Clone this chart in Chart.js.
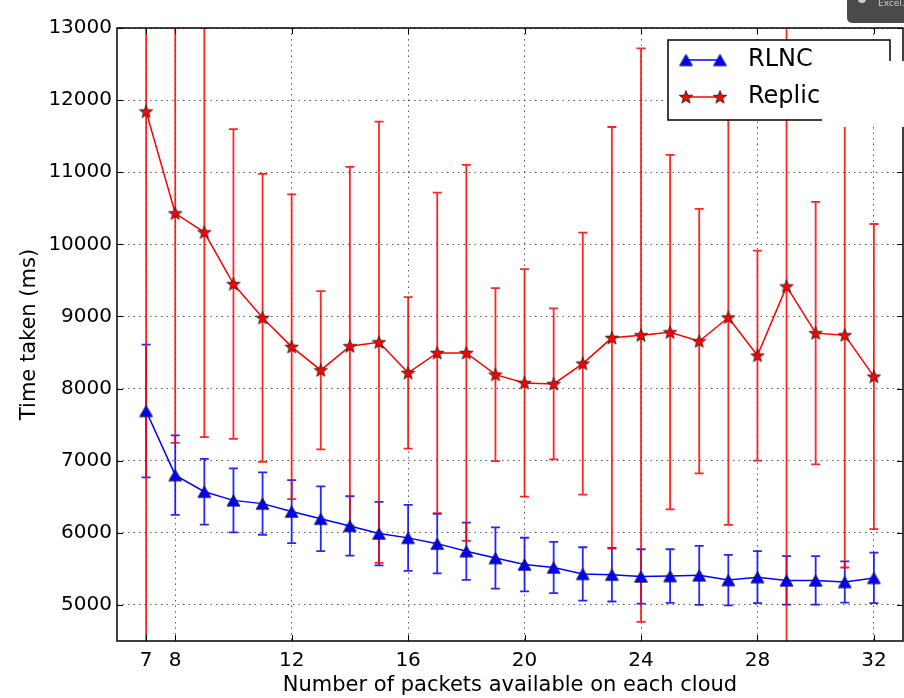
<!DOCTYPE html>
<html>
<head>
<meta charset="utf-8">
<title>Time taken vs packets per cloud</title>
<script src="https://cdn.jsdelivr.net/npm/chart.js@4/dist/chart.umd.min.js"></script>
<style>
    html, body { margin: 0; padding: 0; background: #ffffff; }
    #timeChart { display: block; }
</style>
</head>
<body>
<canvas id="timeChart" width="904" height="698"></canvas>
<script>
// Data
const packets = [7, 8, 9, 10, 11, 12, 13, 14, 15, 16, 17, 18, 19, 20, 21, 22, 23, 24, 25, 26, 27, 28, 29, 30, 31, 32]; // x values
const rlncMean = [7690, 6800, 6570, 6450, 6405, 6295, 6195, 6095, 5990, 5930, 5850, 5745, 5650, 5560, 5520, 5430, 5420, 5395, 5400, 5410, 5345, 5385, 5340, 5340, 5318, 5375];
const rlncErr = [920, 550, 455, 443, 432, 437, 450, 412, 440, 457, 412, 397, 425, 372, 355, 370, 372, 377, 372, 410, 350, 360, 337, 337, 287, 350];
const replicMean = [11843, 10431, 10167, 9450, 8981, 8579, 8255, 8588, 8643, 8218, 8495, 8495, 8194, 8079, 8065, 8347, 8704, 8741, 8782, 8657, 8986, 8458, 9417, 8769, 8741, 8166];
const replicErr = [7600, 3185, 2840, 2148, 1997, 2113, 1097, 2487, 3060, 1050, 2222, 2608, 1199, 1578, 1046, 1817, 2923, 3977, 2458, 1834, 2875, 1456, 5200, 1820, 3222, 2116];
const xTicks = [7, 8, 12, 16, 20, 24, 28, 32]; // tick labels on the x axis
const yTicks = [5000, 6000, 7000, 8000, 9000, 10000, 11000, 12000, 13000]; // tick labels on the y axis
const seriesNames = ['RLNC', 'Replic'];

const FONT = "'DejaVu Sans', sans-serif";

// marker images (matplotlib style filled markers with a dark edge)
function makeStar(r, fill) {
    const s = Math.ceil(r * 2 + 4);
    const c = document.createElement('canvas');
    c.width = s; c.height = s;
    const g = c.getContext('2d');
    g.translate(s / 2, s / 2 + 0.5);
    g.beginPath();
    for (let i = 0; i < 10; i++) {
        const rad = i % 2 ? r * 0.42 : r;
        const a = -Math.PI / 2 + i * Math.PI / 5;
        g.lineTo(rad * Math.cos(a), rad * Math.sin(a));
    }
    g.closePath();
    g.fillStyle = fill; g.fill();
    g.lineWidth = 0.8; g.strokeStyle = '#222'; g.stroke();
    return c;
}

function makeTriangle(w, h, fill) {
    const s = Math.ceil(Math.max(w, h) + 4);
    const c = document.createElement('canvas');
    c.width = s; c.height = s;
    const g = c.getContext('2d');
    g.translate(s / 2, s / 2);
    g.beginPath();
    g.moveTo(0, -h / 2);
    g.lineTo(-w / 2, h / 2);
    g.lineTo(w / 2, h / 2);
    g.closePath();
    g.fillStyle = fill; g.fill();
    g.lineWidth = 0.8; g.strokeStyle = '#222'; g.stroke();
    return c;
}

const triangleImg = makeTriangle(13, 11.5, '#0000ff');
const starImg = makeStar(7, '#ff0000');

// error bars drawn from the data arrays through the chart scales
const errorBarPlugin = {
    id: 'errorBars',
    beforeDatasetsDraw(chart) {
        const { ctx, chartArea, scales } = chart;
        const sets = [
            { mean: rlncMean, err: rlncErr, color: 'rgba(0, 0, 255, 0.85)' },
            { mean: replicMean, err: replicErr, color: 'rgba(255, 0, 0, 0.85)' }
        ];
        ctx.save();
        ctx.beginPath();
        ctx.rect(chartArea.left, chartArea.top, chartArea.right - chartArea.left, chartArea.bottom - chartArea.top);
        ctx.clip();
        ctx.lineWidth = 1.8;
        sets.forEach(set => {
            ctx.strokeStyle = set.color;
            packets.forEach((p, i) => {
                const x = scales.x.getPixelForValue(p);
                const yHi = scales.y.getPixelForValue(set.mean[i] + set.err[i]);
                const yLo = scales.y.getPixelForValue(set.mean[i] - set.err[i]);
                ctx.beginPath();
                ctx.moveTo(x, yHi); ctx.lineTo(x, yLo); // the bar
                ctx.moveTo(x - 4.5, yHi); ctx.lineTo(x + 4.5, yHi); // top cap
                ctx.moveTo(x - 4.5, yLo); ctx.lineTo(x + 4.5, yLo); // bottom cap
                ctx.stroke();
            });
        });
        ctx.restore();
    }
};

// frame, inward ticks, legend box and the leftover screen overlay in the corner
const decorPlugin = {
    id: 'decor',
    afterDraw(chart) {
        const { ctx, chartArea: a, scales } = chart;
        ctx.save();
        ctx.strokeStyle = '#000';
        ctx.lineWidth = 1.5;
        ctx.strokeRect(a.left, a.top, a.right - a.left, a.bottom - a.top);

        ctx.lineWidth = 1;
        ctx.beginPath();
        yTicks.forEach(v => {
            const y = Math.round(scales.y.getPixelForValue(v)) + 0.5;
            ctx.moveTo(a.left, y); ctx.lineTo(a.left + 6, y);
            ctx.moveTo(a.right, y); ctx.lineTo(a.right - 6, y);
        });
        xTicks.forEach(v => {
            const x = Math.round(scales.x.getPixelForValue(v)) + 0.5;
            ctx.moveTo(x, a.bottom); ctx.lineTo(x, a.bottom - 6);
            ctx.moveTo(x, a.top); ctx.lineTo(x, a.top + 6);
        });
        ctx.stroke();

        // legend
        const lx = 668, ly = 40, lw = 222, lh = 80;
        ctx.fillStyle = '#fff';
        ctx.fillRect(lx, ly, lw, lh);
        ctx.lineWidth = 1.5;
        ctx.strokeStyle = '#000';
        ctx.strokeRect(lx, ly, lw, lh);
        const rows = [
            { y: 60, color: '#0000ff', img: triangleImg },
            { y: 97, color: '#ff0000', img: starImg }
        ];
        rows.forEach((r, i) => {
            ctx.strokeStyle = r.color;
            ctx.lineWidth = 1.5;
            ctx.beginPath();
            ctx.moveTo(686, r.y); ctx.lineTo(720, r.y);
            ctx.stroke();
            [686, 720].forEach(mx => ctx.drawImage(r.img, mx - r.img.width / 2, r.y - r.img.height / 2));
            ctx.fillStyle = '#000';
            ctx.font = '24px ' + FONT;
            ctx.textBaseline = 'middle';
            ctx.textAlign = 'left';
            ctx.fillText(seriesNames[i], 748, r.y);
        });

        // white patch covering part of the legend and the right frame
        ctx.fillStyle = '#fff';
        ctx.fillRect(822, 61, 82, 66);

        // dark popup in the top right corner
        ctx.fillStyle = '#4a4a4a';
        ctx.beginPath();
        ctx.roundRect(847, -10, 70, 33, 5);
        ctx.fill();
        ctx.fillStyle = '#d0d0d0';
        ctx.beginPath();
        ctx.arc(862, -1, 4, 0, Math.PI * 2);
        ctx.fill();
        ctx.font = '9px ' + FONT;
        ctx.textBaseline = 'alphabetic';
        ctx.fillText('Excel.', 878, 6);
        ctx.restore();
    }
};

document.addEventListener('DOMContentLoaded', () => {
    const ctx = document.getElementById('timeChart').getContext('2d');
    new Chart(ctx, {
        type: 'line',
        data: {
            datasets: [
                {
                    label: seriesNames[0],
                    data: packets.map((p, i) => ({ x: p, y: rlncMean[i] })),
                    borderColor: '#0000ff',
                    borderWidth: 1.5,
                    pointStyle: triangleImg,
                    pointRadius: 7,
                    tension: 0
                },
                {
                    label: seriesNames[1],
                    data: packets.map((p, i) => ({ x: p, y: replicMean[i] })),
                    borderColor: '#ff0000',
                    borderWidth: 1.5,
                    pointStyle: starImg,
                    pointRadius: 7,
                    tension: 0
                }
            ]
        },
        options: {
            responsive: false,
            devicePixelRatio: 1,
            animation: false,
            layout: { autoPadding: false, padding: { top: 28, right: 1, left: 0, bottom: 0 } },
            plugins: { legend: { display: false }, tooltip: { enabled: false } },
            scales: {
                x: {
                    type: 'linear',
                    min: 6,
                    max: 33,
                    afterBuildTicks: scale => { scale.ticks = xTicks.map(v => ({ value: v })); },
                    afterFit: scale => { scale.height = 57; },
                    grid: { color: 'rgba(0,0,0,0.65)', lineWidth: 1, drawTicks: false },
                    border: { display: false, dash: [1.5, 4] },
                    ticks: { color: '#000', font: { family: FONT, size: 20 }, padding: 8, maxRotation: 0, autoSkip: false },
                    title: {
                        display: true,
                        text: 'Number of packets available on each cloud',
                        color: '#000',
                        font: { family: FONT, size: 21 },
                        padding: { top: 0, bottom: 0 }
                    }
                },
                y: {
                    type: 'linear',
                    min: 4500,
                    max: 13000,
                    afterBuildTicks: scale => { scale.ticks = yTicks.map(v => ({ value: v })); },
                    afterFit: scale => { scale.width = 117; },
                    grid: { color: 'rgba(0,0,0,0.65)', lineWidth: 1, drawTicks: false },
                    border: { display: false, dash: [1.5, 4] },
                    ticks: { color: '#000', font: { family: FONT, size: 20 }, padding: 5, callback: v => String(v) },
                    title: {
                        display: true,
                        text: 'Time taken (ms)',
                        color: '#000',
                        font: { family: FONT, size: 21 },
                        padding: { top: 17, bottom: 0 }
                    }
                }
            }
        },
        plugins: [errorBarPlugin, decorPlugin]
    });
});
</script>
</body>
</html>
